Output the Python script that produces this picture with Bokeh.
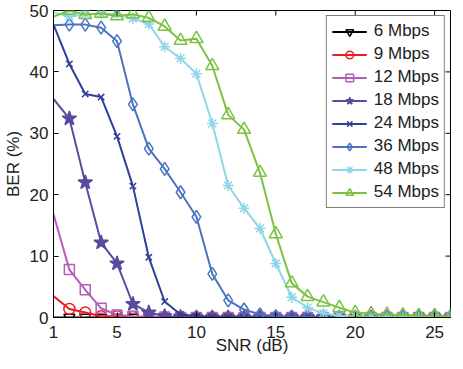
import math
from bokeh.plotting import figure
from bokeh.models import FixedTicker, Range1d
from bokeh.embed import file_html
from bokeh.resources import INLINE

snr = [1, 2, 3, 4, 5, 6, 7, 8, 9, 10, 11, 12, 13, 14, 15, 16, 17, 18, 19, 20, 21, 22, 23, 24, 25, 26]

ber_6 = [0.0, 0.0, 0.0, 0.0, 0.0, 0.0, 0.0, 0.0, 0.0, 0.0, 0.0, 0.0, 0.0, 0.0, 0.0, 0.0, 0.0, 0.0, 0.0, 0.0, 0.0, 0.0, 0.0, 0.0, 0.0, 0.0]
ber_9 = [3.5, 1.4, 0.8, 0.2, 0.2, 0.1, 0.1, 0.0, 0.0, 0.0, 0.0, 0.0, 0.0, 0.0, 0.0, 0.0, 0.0, 0.0, 0.0, 0.0, 0.0, 0.0, 0.0, 0.0, 0.0, 0.0]
ber_12 = [16.8, 7.8, 4.5, 1.5, 0.4, 0.2, 0.1, 0.1, 0.0, 0.0, 0.0, 0.0, 0.0, 0.0, 0.0, 0.0, 0.0, 0.0, 0.0, 0.0, 0.0, 0.0, 0.0, 0.0, 0.0, 0.0]
ber_18 = [35.6, 32.4, 22.0, 12.2, 8.8, 2.2, 0.8, 0.2, 0.1, 0.0, 0.0, 0.0, 0.0, 0.0, 0.0, 0.0, 0.0, 0.0, 0.0, 0.0, 0.0, 0.0, 0.0, 0.0, 0.0, 0.0]
ber_24 = [47.7, 41.3, 36.4, 35.9, 29.5, 21.4, 9.8, 2.6, 0.5, 0.2, 0.1, 0.0, 0.0, 0.0, 0.0, 0.0, 0.0, 0.0, 0.0, 0.0, 0.0, 0.0, 0.0, 0.0, 0.0, 0.0]
ber_36 = [47.6, 47.7, 47.7, 47.2, 45.0, 34.7, 27.5, 24.2, 20.4, 16.4, 7.1, 2.8, 1.3, 0.5, 0.2, 0.1, 0.1, 0.0, 0.0, 0.0, 0.0, 0.0, 0.0, 0.0, 0.0, 0.0]
ber_48 = [49.7, 49.0, 49.4, 49.5, 49.4, 48.7, 47.8, 44.1, 42.2, 39.7, 31.6, 21.5, 17.8, 14.5, 8.8, 3.3, 1.6, 0.7, 0.3, 0.2, 0.1, 0.1, 0.1, 0.1, 0.1, 0.1]
ber_54 = [49.0, 50.0, 49.3, 49.5, 49.1, 49.4, 48.8, 47.4, 45.1, 45.4, 41.0, 33.0, 30.6, 23.6, 13.6, 5.6, 3.4, 2.5, 1.6, 0.8, 0.6, 0.5, 0.4, 0.3, 0.3, 0.2]

labels = ["6 Mbps", "9 Mbps", "12 Mbps", "18 Mbps", "24 Mbps", "36 Mbps", "48 Mbps", "54 Mbps"]
x_ticks = [1, 5, 10, 15, 20, 25]
y_ticks = [0, 10, 20, 30, 40, 50]
X_MIN, X_MAX = 1, 26
Y_MIN, Y_MAX = 0, 50

series = [ber_6, ber_9, ber_12, ber_18, ber_24, ber_36, ber_48, ber_54]
colors = ["#000000", "#ec1c24", "#b25fb8", "#5a4aa0", "#2c4197", "#4a74c2", "#8ed6e8", "#7cc242"]
markers = ["inverted_triangle", "circle", "square", "star", "x", "diamond", "asterisk", "triangle"]
msizes = [11, 11, 10, 15, 9, 13, 11, 13]

FONT = "Liberation Sans"
FS = "17px"

p = figure(width=455, height=361, output_backend="svg", toolbar_location=None,
           x_range=Range1d(X_MIN, X_MAX), y_range=Range1d(Y_MIN, Y_MAX))
p.min_border_left = 49
p.min_border_right = 5
p.min_border_top = 10
p.min_border_bottom = 44
p.xgrid.visible = False
p.ygrid.visible = False
p.outline_line_color = "black"
p.outline_line_width = 1

for ys, c, m, s, lab in zip(series, colors, markers, msizes, labels):
    p.line(snr, ys, line_color=c, line_width=2, legend_label=lab)
    filled = (m == "star")
    p.scatter(snr[1:], ys[1:], marker=m, size=s, line_color=c, line_width=1.5,
              fill_color=c if filled else None, legend_label=lab)

# mirrored inward ticks on the top and right edges (half of each dash is clipped by the frame)
p.scatter(x_ticks, [Y_MAX] * len(x_ticks), marker="dash", angle=math.pi / 2, size=10,
          line_color="black", line_width=1)
p.scatter([X_MAX] * len(y_ticks), y_ticks, marker="dash", size=10,
          line_color="black", line_width=1)

for ax, ticks in ((p.xaxis[0], x_ticks), (p.yaxis[0], y_ticks)):
    ax.ticker = FixedTicker(ticks=ticks)
    ax.major_tick_in = 5
    ax.major_tick_out = 0
    ax.minor_tick_line_color = None
    ax.axis_line_color = "black"
    ax.major_tick_line_color = "black"
    ax.major_label_text_font = FONT
    ax.major_label_text_font_size = FS
    ax.major_label_text_color = "#222222"
    ax.axis_label_text_font = FONT
    ax.axis_label_text_font_size = FS
    ax.axis_label_text_font_style = "normal"
    ax.axis_label_text_color = "#222222"

p.xaxis[0].axis_label = "SNR (dB)"
p.xaxis[0].major_label_standoff = 8
p.xaxis[0].axis_label_standoff = -5
p.yaxis[0].axis_label = "BER (%)"
p.yaxis[0].major_label_standoff = 5
p.yaxis[0].axis_label_standoff = 4

leg = p.legend[0]
leg.location = "top_right"
leg.margin = 5
leg.padding = 5
leg.spacing = 3
leg.label_height = 19
leg.glyph_height = 19
leg.glyph_width = 35
leg.label_standoff = 7
leg.label_text_font = FONT
leg.label_text_font_size = FS
leg.label_text_color = "#222222"
leg.border_line_color = "black"
leg.border_line_width = 1
leg.background_fill_color = "white"
leg.background_fill_alpha = 1.0

open("out.html", "w").write(file_html(p, INLINE))
